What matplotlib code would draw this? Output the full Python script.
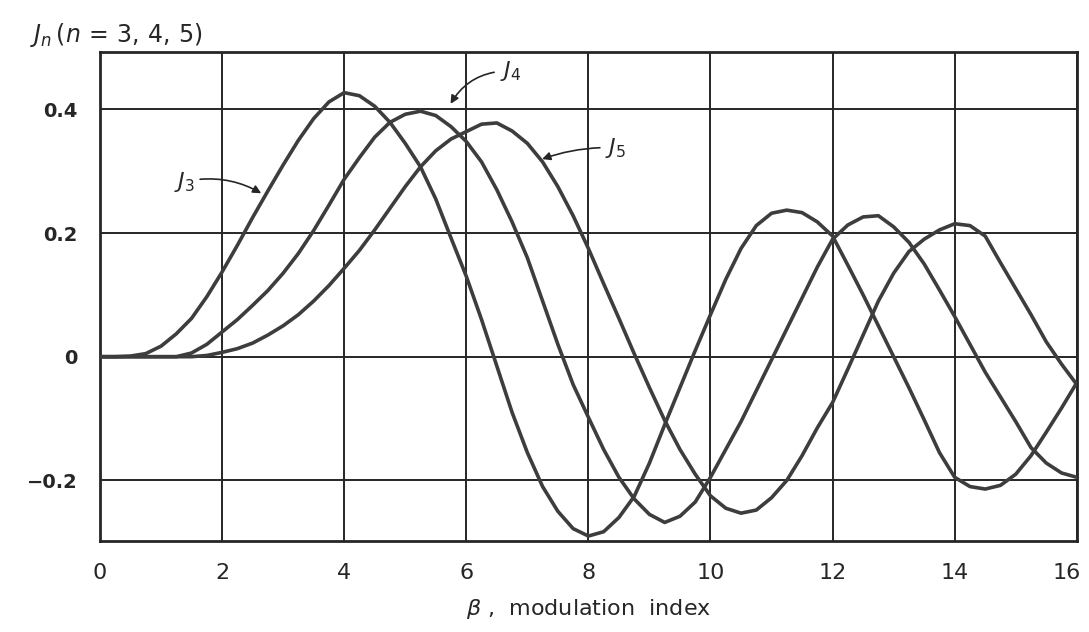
import numpy as np
import matplotlib
matplotlib.use("Agg")
import matplotlib.pyplot as plt
from matplotlib.transforms import ScaledTranslation

# Modulation index samples
beta = np.arange(0, 16.01, 0.25)

# Bessel function curves J3, J4, J5 sampled every 0.25
j3 = [0.000, 0.000, 0.001, 0.005, 0.017, 0.037, 0.062, 0.097,
      0.137, 0.180, 0.225, 0.268, 0.310, 0.350, 0.385, 0.412,
      0.427, 0.422, 0.405, 0.379, 0.345, 0.307, 0.255, 0.192,
      0.130, 0.060, -0.015, -0.090, -0.155, -0.210, -0.250, -0.278,
      -0.290, -0.283, -0.260, -0.226, -0.172, -0.110, -0.050, 0.010,
      0.068, 0.125, 0.175, 0.212, 0.232, 0.237, 0.233, 0.218,
      0.195, 0.148, 0.100, 0.050, 0.000, -0.050, -0.102, -0.155,
      -0.195, -0.210, -0.214, -0.208, -0.190, -0.160, -0.122, -0.083,
      -0.042]
j4 = [0.000, 0.000, 0.000, 0.000, 0.000, 0.000, 0.006, 0.020,
      0.040, 0.060, 0.083, 0.107, 0.135, 0.167, 0.204, 0.245,
      0.287, 0.322, 0.355, 0.379, 0.392, 0.397, 0.390, 0.372,
      0.348, 0.315, 0.270, 0.218, 0.160, 0.090, 0.020, -0.045,
      -0.098, -0.150, -0.195, -0.230, -0.255, -0.268, -0.258, -0.235,
      -0.195, -0.150, -0.105, -0.055, -0.005, 0.045, 0.095, 0.145,
      0.190, 0.213, 0.226, 0.228, 0.210, 0.185, 0.150, 0.108,
      0.065, 0.020, -0.025, -0.065, -0.105, -0.147, -0.172, -0.188,
      -0.195]
j5 = [0.000, 0.000, 0.000, 0.000, 0.000, 0.000, 0.000, 0.002,
      0.007, 0.013, 0.022, 0.035, 0.050, 0.068, 0.090, 0.115,
      0.143, 0.172, 0.205, 0.240, 0.275, 0.307, 0.333, 0.352,
      0.364, 0.376, 0.378, 0.365, 0.345, 0.315, 0.275, 0.228,
      0.175, 0.118, 0.062, 0.005, -0.050, -0.103, -0.150, -0.190,
      -0.225, -0.245, -0.253, -0.248, -0.228, -0.200, -0.160, -0.115,
      -0.074, -0.020, 0.035, 0.090, 0.135, 0.170, 0.190, 0.205,
      0.215, 0.212, 0.195, 0.152, 0.110, 0.068, 0.024, -0.012,
      -0.045]

xticks = [0, 2, 4, 6, 8, 10, 12, 14, 16]
yticks = [-0.2, 0.0, 0.2, 0.4]
ytick_labels = ["\u22120.2", "0", "0.2", "0.4"]

ink = "#262626"
curve_col = "#3d3d3d"

fig = plt.figure(figsize=(10.89, 6.32), dpi=100)
ax = fig.add_axes([0.0918, 0.144, 0.897, 0.774])

for series in (j3, j4, j5):
    ax.plot(beta, series, color=curve_col, lw=2.6, solid_capstyle="round",
            solid_joinstyle="round", zorder=3)

ax.set_xlim(0, 16)
ax.set_ylim(-0.298, 0.493)
ax.set_xticks(xticks)
ax.set_yticks(yticks)
ax.grid(True, color=ink, lw=1.4)
ax.tick_params(length=0, pad=16)
for s in ax.spines.values():
    s.set_color(ink)
    s.set_linewidth(2.0)

ax.set_xticklabels([str(t) for t in xticks], fontsize=16, color=ink)
ax.set_yticklabels(ytick_labels, fontsize=14, color=ink, fontweight="bold")

# keep the last x label inside the canvas
last = ax.get_xticklabels()[-1]
last.set_transform(last.get_transform() +
                   ScaledTranslation(-10 / 100, 0, fig.dpi_scale_trans))

ax.set_xlabel(r"$\beta$ ,  modulation  index", fontsize=16, color=ink,
              labelpad=10)

fig.text(0.028, 0.945, r"$J_n\,(n\,=\,3,\,4,\,5)$", fontsize=17, color=ink,
         ha="left", va="center")

arrow_kw = dict(arrowstyle="-|>", color=ink, lw=1.2, mutation_scale=12)
ax.annotate(r"$J_3$", xy=(2.68, 0.262), xytext=(1.38, 0.283),
            fontsize=16, color=ink, ha="center", va="center",
            arrowprops=dict(connectionstyle="arc3,rad=-0.2", **arrow_kw))
ax.annotate(r"$J_4$", xy=(5.72, 0.405), xytext=(6.72, 0.462),
            fontsize=16, color=ink, ha="center", va="center",
            arrowprops=dict(connectionstyle="arc3,rad=0.3", **arrow_kw))
ax.annotate(r"$J_5$", xy=(7.2, 0.318), xytext=(8.45, 0.338),
            fontsize=16, color=ink, ha="center", va="center",
            arrowprops=dict(connectionstyle="arc3,rad=0.1", **arrow_kw))

fig.savefig("out.png", dpi=100, facecolor="white")
